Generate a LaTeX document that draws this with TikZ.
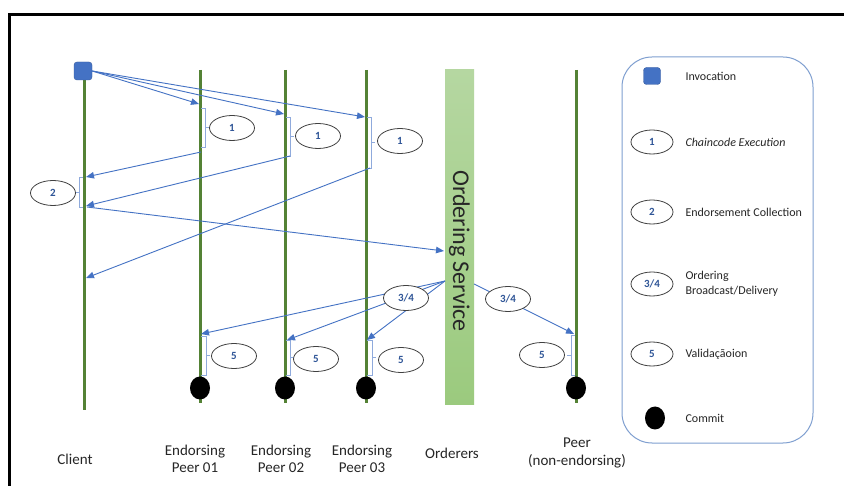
\documentclass[tikz,border=0pt]{standalone}
\usepackage{fontspec}
\setmainfont{Carlito}
\usetikzlibrary{arrows.meta,shapes.geometric}
\definecolor{lgreen}{HTML}{548235}
\definecolor{ablue}{HTML}{4472C4}
\definecolor{nblue}{HTML}{2F5597}
\definecolor{bblue}{HTML}{8FAADC}
\definecolor{legb}{HTML}{7F9FD0}
\definecolor{ordtop}{HTML}{B5D7A1}
\definecolor{ordbot}{HTML}{9BCA7E}
\begin{document}
\begin{tikzpicture}[x=1pt,y=-1pt,
  life/.style={draw=lgreen, line width=3pt},
  msg/.style={draw=ablue, line width=0.9pt, -{Triangle[length=8pt,width=6.5pt]}},
  brk/.style={draw=bblue, line width=0.7pt},
  stepoval/.style={ellipse, draw=black!75, line width=0.8pt, fill=white, minimum width=45pt, minimum height=25pt, inner sep=0pt, font=\fontsize{11}{12}\selectfont\bfseries, text=nblue},
  legoval/.style={stepoval, minimum width=42pt, minimum height=24pt},
  commitdot/.style={ellipse, fill=black, minimum width=20pt, minimum height=23pt, inner sep=0pt},
  invsq/.style={rectangle, rounded corners=3pt, fill=ablue, draw=ablue!80!black, line width=0.4pt, minimum size=18pt, inner sep=0pt},
  lbl/.style={font=\fontsize{15}{17.5}\selectfont, align=center, text=black!85},
  legtext/.style={anchor=west, font=\fontsize{12}{15}\selectfont, align=left, text=black!85}]

\useasboundingbox (0,0) rectangle (844,486);
\fill[white] (0,0) rectangle (844,486);
\draw[line width=2.5pt] (9.5,492) -- (9.5,14.5) -- (850,14.5);

% lifelines
\draw[life] (84,78) -- (84,410);
\draw[life] (200,70) -- (200,403);
\draw[life] (285,70) -- (285,403);
\draw[life] (366,70) -- (366,403);
\draw[life] (576,70) -- (576,403);

% ordering service bar
\node[rectangle, inner sep=0pt, minimum width=29pt, minimum height=335pt, top color=ordtop, bottom color=ordbot] (ord) at (459.5,237.5) {};
\node[rotate=-90, font=\fontsize{24}{24}\selectfont, text=black!85] (ordtxt) at (459.5,251) {Ordering Service};

% invocation
\node[invsq] (inv) at (83,71) {};

% coordinates on lifelines
\coordinate (p1in) at (199,104);
\coordinate (p2in) at (284,114);
\coordinate (p3in) at (365,117);
\coordinate (p1out) at (201,152);
\coordinate (p2out) at (290,156);
\coordinate (p3out) at (370,168);
\coordinate (c1) at (86,177);
\coordinate (c2) at (86,206);
\coordinate (c3) at (86,278);
\coordinate (c2out) at (87,207);
\coordinate (ordin) at (444,251);
\coordinate (ordout) at (445,281);
\coordinate (ordoutr) at (474,284);
\coordinate (p1v) at (201,334);
\coordinate (p2v) at (287,340);
\coordinate (p3v) at (367,340);
\coordinate (p4v) at (574,334);

% brackets
\draw[brk] (201,108) -- (205,108) -- (205,147) -- (201,147);
\draw[brk] (205,127.5) -- (209,127.5);
\draw[brk] (286,117) -- (290,117) -- (290,156) -- (286,156);
\draw[brk] (290,136.5) -- (294,136.5);
\draw[brk] (367,117) -- (371,117) -- (371,168) -- (367,168);
\draw[brk] (371,142.5) -- (375,142.5);
\draw[brk] (83,177) -- (79,177) -- (79,207) -- (83,207);
\draw[brk] (79,192) -- (75,192);
\draw[brk] (201,336) -- (206,336) -- (206,375) -- (201,375);
\draw[brk] (206,355.5) -- (210,355.5);
\draw[brk] (286,340) -- (290,340) -- (290,375) -- (286,375);
\draw[brk] (290,357.5) -- (294,357.5);
\draw[brk] (367,340) -- (372,340) -- (372,375) -- (367,375);
\draw[brk] (372,357.5) -- (376,357.5);
\draw[brk] (575,335) -- (571,335) -- (571,375) -- (575,375);
\draw[brk] (571,355) -- (567,355);

% messages
\draw[msg] (inv.east) -- (p1in);
\draw[msg] (inv.east) -- (p2in);
\draw[msg] (inv.east) -- (p3in);
\draw[msg] (p1out) -- (c1);
\draw[msg] (p2out) -- (c2);
\draw[msg] (p3out) -- (c3);
\draw[msg] (c2out) -- (ordin);
\draw[msg] (ordout) -- (p1v);
\draw[msg] (ordout) -- (p2v);
\draw[msg] (ordout) -- (p3v);
\draw[msg] (ordoutr) -- (p4v);

% step ovals
\node[stepoval] (e1a) at (232,128) {1};
\node[stepoval] (e1b) at (318,136) {1};
\node[stepoval] (e1c) at (400,141) {1};
\node[stepoval] (e2) at (53,193) {2};
\node[stepoval] (e34a) at (406,298) {3/4};
\node[stepoval] (e34b) at (508,299) {3/4};
\node[stepoval] (e5a) at (234,356) {5};
\node[stepoval] (e5b) at (316,359) {5};
\node[stepoval] (e5c) at (401,360) {5};
\node[stepoval] (e5d) at (542,355) {5};

% commits
\node[commitdot] (k1) at (200,388) {};
\node[commitdot] (k2) at (285,388) {};
\node[commitdot] (k3) at (366,388) {};
\node[commitdot] (k4) at (576,388) {};

% labels
\node[lbl] (lc) at (75,459) {Client};
\node[lbl] (l1) at (195,459) {Endorsing\\Peer 01};
\node[lbl] (l2) at (281,459) {Endorsing\\Peer 02};
\node[lbl] (l3) at (362,459) {Endorsing\\Peer 03};
\node[lbl] (lo) at (452,453) {Orderers};
\node[lbl] (lp) at (577,453) {Peer\\(non-endorsing)};

% legend
\node[rectangle, draw=legb, line width=1pt, rounded corners=30pt, minimum width=191pt, minimum height=386pt, inner sep=0pt] (legend) at (717.5,250) {};
\node[invsq, minimum size=17pt] (lg0) at (652,76) {};
\node[legtext] at (682,76) {Invocation};
\node[legoval] (lg1) at (652,142) {1};
\node[legtext] at (682,142) {\itshape Chaincode Execution};
\node[legoval] (lg2) at (652,212) {2};
\node[legtext] at (682,212) {Endorsement Collection};
\node[legoval] (lg3) at (652,284) {3/4};
\node[legtext] at (682,284) {Ordering\\Broadcast/Delivery};
\node[legoval] (lg4) at (652,354) {5};
\node[legtext] at (682,354) {Validaçãoion};
\node[commitdot] (lg5) at (655,418) {};
\node[legtext] at (682,418) {Commit};
\end{tikzpicture}
\end{document}
